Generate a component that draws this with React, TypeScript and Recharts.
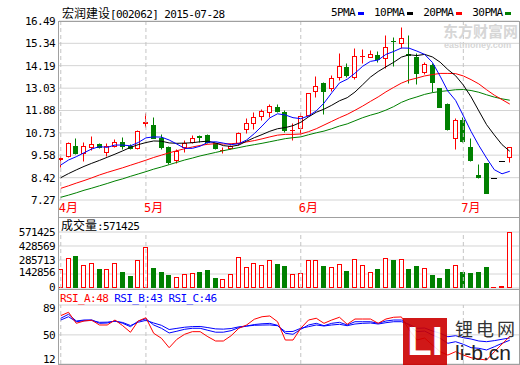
import { Bar, CartesianGrid, ComposedChart, Line, ReferenceLine, XAxis, YAxis } from 'recharts'

const MONO = '"DejaVu Sans Mono", monospace'
const CJK = '"Noto Sans CJK SC", sans-serif'
const RED = '#ff0000'
const GREEN = '#008000'
const BLUE = '#0000ff'
const GRID = '#d4d4d4'
const FRAME = '#a0a0a0'
const DASH = '#c4c4c4'

// daily candles, 2015-04-16 .. 2015-07-28
const opens = [
  9.40, 9.55, 10.05, 9.67, 10.01, 10.15, 9.76, 10.07, 10.24, 10.05,
  9.93, 11.25, 11.13, 10.48, 9.98, 9.33, 9.98, 10.24, 10.57, 10.62,
  10.19, 9.84, 9.93, 10.20, 10.93, 11.22, 11.60, 11.82, 12.08, 11.80,
  10.85, 10.96, 11.65, 12.90, 13.31, 13.05, 13.59, 14.14, 13.59, 14.68,
  14.65, 14.74, 14.57, 15.48, 15.37, 14.80, 14.65, 13.88, 14.22, 13.02,
  12.21, 10.45, 11.39, 10.01, 8.56, 9.16, 8.42, 9.26, 9.47
]
const highs = [
  9.55, 10.26, 10.46, 10.24, 10.55, 10.22, 10.19, 10.40, 10.53, 10.15,
  10.88, 11.73, 11.56, 10.65, 10.05, 9.88, 10.36, 10.60, 10.62, 10.66,
  10.22, 9.98, 10.10, 10.76, 11.48, 11.82, 11.94, 12.21, 12.21, 11.92,
  11.22, 11.73, 12.80, 13.66, 13.33, 13.71, 14.83, 14.34, 15.08, 15.03,
  15.00, 14.93, 15.77, 15.68, 16.20, 15.77, 14.83, 14.39, 14.31, 13.05,
  12.25, 11.48, 11.55, 10.45, 9.12, 9.20, 8.42, 9.26, 10.00
]
const lows = [
  8.97, 9.50, 9.62, 9.29, 9.85, 9.97, 9.55, 10.01, 9.88, 9.90,
  9.90, 11.05, 10.45, 9.88, 9.11, 9.20, 9.73, 10.20, 10.24, 10.19,
  9.90, 9.67, 9.88, 10.10, 10.72, 10.95, 11.40, 11.56, 11.78, 10.79,
  10.36, 10.67, 11.62, 12.56, 11.70, 12.90, 13.45, 13.62, 13.49, 14.31,
  14.63, 14.36, 14.05, 14.17, 15.08, 13.28, 13.23, 13.76, 12.85, 12.04,
  10.85, 9.88, 10.28, 9.30, 8.42, 7.62, 8.42, 9.26, 9.24
]
const closes = [
  9.43, 10.22, 9.67, 10.05, 10.15, 9.99, 10.05, 10.24, 10.05, 9.95,
  10.84, 11.28, 10.48, 9.98, 9.21, 9.81, 10.19, 10.45, 10.53, 10.24,
  9.93, 9.87, 10.05, 10.74, 11.22, 11.56, 11.85, 12.11, 11.83, 10.88,
  10.88, 11.62, 12.77, 13.14, 12.90, 13.54, 14.17, 13.71, 14.69, 14.71,
  14.79, 14.52, 15.13, 15.44, 15.60, 14.75, 13.80, 14.27, 13.36, 12.07,
  10.91, 11.39, 10.32, 9.33, 8.44, 7.65, 8.42, 9.26, 9.98
]

const ma5 = [
  9.07, 9.33, 9.50, 9.70, 9.90, 10.02, 9.98, 10.10, 10.10, 10.06,
  10.23, 10.47, 10.52, 10.51, 10.36, 10.15, 9.93, 9.93, 10.04, 10.24,
  10.27, 10.20, 10.12, 10.17, 10.36, 10.69, 11.08, 11.50, 11.71, 11.65,
  11.51, 11.46, 11.60, 11.86, 12.26, 12.79, 13.30, 13.49, 13.80, 14.16,
  14.41, 14.48, 14.77, 14.92, 15.10, 15.09, 14.94, 14.77, 14.36, 13.65,
  12.88, 12.40, 11.61, 10.80, 10.08, 9.43, 8.83, 8.62, 8.75
]
const ma10 = [
  8.42, 8.63, 8.82, 9.00, 9.16, 9.31, 9.47, 9.63, 9.80, 9.98,
  10.12, 10.23, 10.31, 10.30, 10.21, 10.19, 10.20, 10.22, 10.27, 10.30,
  10.21, 10.07, 10.03, 10.10, 10.30, 10.48, 10.64, 10.81, 10.94, 11.00,
  11.10, 11.27, 11.55, 11.79, 11.95, 12.15, 12.38, 12.54, 12.83, 13.21,
  13.60, 13.89, 14.13, 14.36, 14.63, 14.75, 14.71, 14.77, 14.64, 14.37,
  13.99, 13.67, 13.19, 12.58, 11.86, 11.15, 10.62, 10.12, 9.78
]
const ma20 = [
  7.87, 8.00, 8.14, 8.27, 8.41, 8.56, 8.69, 8.81, 8.93, 9.06,
  9.19, 9.32, 9.46, 9.58, 9.70, 9.81, 9.91, 10.00, 10.08, 10.14,
  10.17, 10.15, 10.17, 10.20, 10.26, 10.33, 10.42, 10.52, 10.61, 10.65,
  10.65, 10.67, 10.79, 10.94, 11.13, 11.32, 11.51, 11.68, 11.89, 12.11,
  12.35, 12.58, 12.84, 13.07, 13.29, 13.45, 13.55, 13.66, 13.73, 13.79,
  13.79, 13.78, 13.66, 13.47, 13.25, 12.95, 12.67, 12.44, 12.21
]
const ma30 = [
  7.41, 7.52, 7.64, 7.77, 7.88, 8.00, 8.12, 8.25, 8.36, 8.49,
  8.61, 8.73, 8.86, 8.97, 9.09, 9.21, 9.33, 9.43, 9.54, 9.63,
  9.72, 9.81, 9.89, 9.97, 10.05, 10.12, 10.19, 10.27, 10.35, 10.43,
  10.48, 10.52, 10.63, 10.73, 10.82, 10.94, 11.08, 11.19, 11.35, 11.51,
  11.64, 11.75, 11.90, 12.08, 12.30, 12.46, 12.58, 12.71, 12.80, 12.86,
  12.90, 12.95, 12.96, 12.91, 12.82, 12.69, 12.57, 12.48, 12.41
]

const volumes = [
  194000, 309000, 324000, 236000, 259000, 194000, 191000, 259000, 160000, 126000,
  282000, 423000, 206000, 160000, 137000, 111000, 145000, 157000, 160000, 183000,
  103000, 88000, 145000, 317000, 217000, 259000, 236000, 282000, 240000, 229000,
  145000, 157000, 282000, 282000, 229000, 213000, 248000, 171000, 294000, 236000,
  168000, 194000, 305000, 286000, 294000, 194000, 229000, 202000, 137000, 103000,
  194000, 236000, 160000, 149000, 160000, 217000, 5000, 23000, 571425
]

const rsiA = [
  75.1, 79.5, 65.1, 68.1, 69.1, 62.9, 62.9, 69.4, 62.0, 53.4,
  68.1, 72.4, 52.1, 45.6, 33.3, 44.2, 50.8, 54.2, 54.2, 47.6,
  42.0, 42.0, 48.9, 58.6, 62.9, 70.4, 73.7, 74.7, 67.2, 43.3,
  43.3, 58.6, 69.4, 71.7, 65.1, 69.4, 73.0, 63.8, 70.7, 70.7,
  70.7, 65.1, 70.7, 73.0, 73.4, 56.4, 43.3, 45.9, 36.8, 28.1,
  23.7, 28.1, 23.7, 20.2, 18.5, 17.2, 28.0, 38.0, 48.0
]
const rsiB = [
  71.7, 76.9, 68.1, 69.4, 69.6, 65.1, 65.5, 68.3, 65.1, 60.7,
  68.0, 71.0, 62.9, 58.6, 52.5, 54.8, 57.3, 58.6, 58.6, 56.0,
  53.5, 53.5, 55.5, 59.5, 61.5, 63.5, 64.5, 65.0, 62.5, 52.1,
  50.8, 57.3, 62.9, 65.1, 62.0, 65.1, 66.4, 62.9, 67.2, 67.2,
  67.2, 65.1, 68.1, 69.4, 69.4, 62.5, 54.2, 55.0, 49.9, 45.6,
  39.0, 41.1, 37.7, 33.3, 32.5, 30.3, 34.5, 39.0, 43.0
]
const rsiC = [
  69.4, 73.7, 67.2, 68.5, 68.8, 66.4, 66.6, 67.8, 66.2, 62.2,
  66.5, 69.0, 65.5, 62.5, 57.0, 58.5, 60.0, 60.8, 61.0, 59.5,
  57.8, 57.5, 58.3, 60.5, 61.5, 62.5, 62.8, 63.0, 62.0, 54.2,
  54.5, 58.6, 60.7, 62.9, 61.6, 62.9, 63.8, 62.0, 64.2, 65.1,
  65.5, 64.2, 65.9, 67.2, 67.2, 63.8, 58.6, 59.0, 55.1, 52.1,
  47.6, 48.9, 46.3, 44.6, 42.0, 41.1, 42.5, 44.3, 46.0
]

const priceTicks = [7.27, 8.42, 9.58, 10.73, 11.88, 13.03, 14.19, 15.34, 16.49]
const volTicks = [0, 142856, 285713, 428569, 571425]
const rsiTicks = [12, 50, 89]
const monthStarts = [0, 11, 31, 52]
const monthLabels = ['4月', '5月', '6月', '7月']

const legend = [
  { name: '5PMA', color: BLUE },
  { name: '10PMA', color: '#000000' },
  { name: '20PMA', color: RED },
  { name: '30PMA', color: GREEN }
]

const rows = closes.map((close, i) => ({
  i,
  open: opens[i],
  high: highs[i],
  low: lows[i],
  close,
  ma5: ma5[i],
  ma10: ma10[i],
  ma20: ma20[i],
  ma30: ma30[i],
  vol: volumes[i],
  rsiA: rsiA[i],
  rsiB: rsiB[i],
  rsiC: rsiC[i]
}))

const xDomain: [number, number] = [-0.23, 59.19]

// y tick label, nudged inward where it sits on a panel edge
const makeTick = (format: (v: number) => string, nudge: Record<number, number> = {}) =>
  ({ x, y, payload }: any) => (
    <text
      x={x}
      y={y + (nudge[payload.value] ?? 0)}
      dy='0.355em'
      textAnchor='end'
      fontSize={11}
      fontFamily={MONO}
      letterSpacing={-0.6}
      fill='#000'
    >
      {format(payload.value)}
    </text>
  )

const PriceTick = makeTick(v => v.toFixed(2))
const VolTick = makeTick(v => String(v), { 0: -1, 142856: -2 })
const RsiTick = makeTick(v => String(v), { 89: 3, 12: -5 })

const Candle = (props: any) => {
  const { x, y, width, height, payload } = props
  const { open, close, high, low } = payload
  const top = Math.min(y, y + height)
  const h = Math.abs(height)
  const span = high - low
  const py = (p: number) => (span > 0 ? top + ((high - p) / span) * h : top)
  const c = Math.round(x + width / 2 - 0.5)
  const wx = c + 0.5
  const yh = Math.round(py(high)) + 0.5
  const yl = Math.round(py(low)) + 0.5
  if (span === 0) {
    return <line x1={c - 2} x2={c + 4} y1={yh} y2={yh} stroke='#000' />
  }
  const yo = Math.round(py(open)) + 0.5
  const yc = Math.round(py(close)) + 0.5
  const up = close >= open
  const color = up ? RED : GREEN
  const bt = Math.min(yo, yc)
  const bb = Math.max(yo, yc)
  return (
    <g>
      <line x1={wx} x2={wx} y1={yh} y2={bt} stroke={color} />
      <line x1={wx} x2={wx} y1={bb} y2={yl} stroke={color} />
      {bb - bt < 1 ? (
        <line x1={c - 2} x2={c + 3} y1={bt} y2={bt} stroke={color} />
      ) : (
        <rect x={c - 1.5} y={bt} width={4} height={bb - bt} fill={up ? '#fff' : GREEN} stroke={color} />
      )}
    </g>
  )
}

const VolBar = (props: any) => {
  const { x, y, width, height, payload } = props
  const c = Math.round(x + width / 2 - 0.5)
  const top = Math.round(y) + 0.5
  const bottom = Math.round(y + height) - 0.5
  const up = payload.close >= payload.open
  const color = up ? RED : GREEN
  if (bottom - top < 1) {
    return <line x1={c - 2} x2={c + 3} y1={bottom} y2={bottom} stroke={color} />
  }
  return <rect x={c - 1.5} y={top} width={4} height={bottom - top} fill={up ? '#fff' : GREEN} stroke={color} />
}

const MonthTick = ({ x, y, payload }: any) => {
  const k = monthStarts.indexOf(payload.value)
  return (
    <text x={x - 2} y={y + 12} fill={RED} fontSize={12} fontFamily={`${MONO}, ${CJK}`}>
      {monthLabels[k]}
    </text>
  )
}

const monthLines = monthStarts.map(m => (
  <ReferenceLine key={m} x={m} stroke={DASH} strokeDasharray='4 3' />
))

const PriceChart = () => (
  <ComposedChart
    width={520}
    height={220}
    data={rows}
    margin={{ top: 21, right: 1, bottom: 4, left: 0 }}
  >
    <CartesianGrid vertical={false} stroke={GRID} />
    <XAxis
      type='number'
      dataKey='i'
      domain={xDomain}
      ticks={monthStarts}
      interval={0}
      height={16}
      axisLine={false}
      tickLine={false}
      tickSize={0}
      tickMargin={0}
      tick={<MonthTick />}
    />
    <YAxis
      width={59}
      domain={[7.27, 16.49]}
      ticks={priceTicks}
      interval={0}
      axisLine={false}
      tickLine={false}
      tickSize={0}
      tickMargin={4}
      tick={<PriceTick />}
    />
    {monthLines}
    <Bar
      dataKey={(d: any) => [d.low, d.high]}
      barSize={5}
      shape={(p: any) => <Candle {...p} />}
      isAnimationActive={false}
    />
    <Line dataKey='ma30' stroke={GREEN} dot={false} strokeWidth={1} isAnimationActive={false} />
    <Line dataKey='ma20' stroke={RED} dot={false} strokeWidth={1} isAnimationActive={false} />
    <Line dataKey='ma10' stroke='#000' dot={false} strokeWidth={1} isAnimationActive={false} />
    <Line dataKey='ma5' stroke={BLUE} dot={false} strokeWidth={1} isAnimationActive={false} />
  </ComposedChart>
)

const VolumeChart = () => (
  <ComposedChart
    width={520}
    height={78}
    data={rows}
    margin={{ top: 15, right: 1, bottom: 7, left: 0 }}
  >
    <CartesianGrid vertical={false} stroke={GRID} />
    <XAxis type='number' dataKey='i' domain={xDomain} hide />
    <YAxis
      width={59}
      domain={[0, 571425]}
      ticks={volTicks}
      interval={0}
      axisLine={false}
      tickLine={false}
      tickSize={0}
      tickMargin={4}
      tick={<VolTick />}
    />
    {monthLines}
    <Bar dataKey='vol' barSize={5} shape={(p: any) => <VolBar {...p} />} isAnimationActive={false} />
  </ComposedChart>
)

const RsiChart = () => (
  <ComposedChart
    width={520}
    height={76}
    data={rows}
    margin={{ top: 16, right: 1, bottom: 1, left: 0 }}
  >
    <CartesianGrid vertical={false} stroke={GRID} />
    <XAxis type='number' dataKey='i' domain={xDomain} hide />
    <YAxis
      width={59}
      domain={[12, 89]}
      ticks={rsiTicks}
      interval={0}
      axisLine={false}
      tickLine={false}
      tickSize={0}
      tickMargin={4}
      tick={<RsiTick />}
    />
    {monthLines}
    <Line dataKey='rsiC' stroke={BLUE} dot={false} strokeWidth={1} isAnimationActive={false} />
    <Line dataKey='rsiB' stroke={BLUE} dot={false} strokeWidth={1} isAnimationActive={false} />
    <Line dataKey='rsiA' stroke={RED} dot={false} strokeWidth={1} isAnimationActive={false} />
  </ComposedChart>
)

const mono: React.CSSProperties = { fontFamily: MONO, fontSize: 11, letterSpacing: -0.6 }

export default function App() {
  return (
    <div
      style={{
        position: 'absolute',
        left: 0,
        top: 0,
        width: 520,
        height: 365,
        background: '#fff',
        overflow: 'hidden',
        whiteSpace: 'nowrap',
        lineHeight: '14px'
      }}
    >
      <div style={{ position: 'absolute', left: 0, top: 0 }}>
        <PriceChart />
      </div>
      <div style={{ position: 'absolute', left: 0, top: 289 }}>
        <RsiChart />
      </div>
      <div style={{ position: 'absolute', left: 0, top: 217 }}>
        <VolumeChart />
      </div>

      {/* panel frames */}
      <div
        style={{
          position: 'absolute',
          left: 58,
          top: 21,
          width: 460,
          height: 342,
          border: `1px solid ${FRAME}`
        }}
      />
      <div style={{ position: 'absolute', left: 58, top: 217, width: 462, height: 1, background: FRAME }} />
      <div style={{ position: 'absolute', left: 58, top: 289, width: 462, height: 1, background: FRAME }} />

      {/* headers */}
      <div style={{ position: 'absolute', left: 62, top: 6 }}>
        <span style={{ fontFamily: CJK, fontSize: 12 }}>宏润建设</span>
        <span style={mono}>[002062] 2015-07-28</span>
      </div>
      <div style={{ position: 'absolute', left: 331, top: 6, display: 'flex', alignItems: 'center' }}>
        {legend.map(l => (
          <span key={l.name} style={{ display: 'flex', alignItems: 'center' }}>
            <span style={mono}>{l.name}</span>
            <span
              style={{ display: 'inline-block', width: 6, height: 3, background: l.color, margin: '0 10px 0 3px' }}
            />
          </span>
        ))}
      </div>
      <div style={{ position: 'absolute', left: 61, top: 218 }}>
        <span style={{ fontFamily: CJK, fontSize: 12 }}>成交量</span>
        <span style={mono}>:571425</span>
      </div>
      <div style={{ position: 'absolute', left: 60, top: 292, ...mono }}>
        <span style={{ color: RED }}>RSI_A:48</span>
        <span style={{ color: BLUE }}> RSI_B:43 RSI_C:46</span>
      </div>

      {/* watermarks */}
      <div
        style={{
          position: 'absolute',
          left: 443,
          top: 24,
          color: '#d6d6d6',
          fontFamily: CJK,
          fontSize: 15,
          fontWeight: 'bold'
        }}
      >
        东方财富网
      </div>
      <div
        style={{
          position: 'absolute',
          left: 444,
          top: 38,
          color: '#d6d6d6',
          fontFamily: 'Liberation Sans, sans-serif',
          fontSize: 9,
          fontWeight: 'bold'
        }}
      >
        eastmoney.com
      </div>
      <div
        style={{
          position: 'absolute',
          left: 403,
          top: 318,
          width: 44,
          height: 47,
          background: '#cc0000',
          opacity: 0.9,
          color: '#fff',
          fontFamily: 'Liberation Sans, sans-serif',
          fontWeight: 'bold',
          fontSize: 40,
          lineHeight: '47px',
          textAlign: 'center'
        }}
      >
        LI
      </div>
      <div
        style={{
          position: 'absolute',
          left: 455,
          top: 316,
          fontFamily: CJK,
          fontSize: 18,
          letterSpacing: 3,
          color: '#333',
          lineHeight: '24px'
        }}
      >
        锂电网
      </div>
      <div
        style={{
          position: 'absolute',
          left: 455,
          top: 341,
          fontFamily: 'Liberation Sans, sans-serif',
          fontSize: 21,
          color: '#222',
          lineHeight: '24px'
        }}
      >
        li-b.cn
      </div>
    </div>
  )
}
